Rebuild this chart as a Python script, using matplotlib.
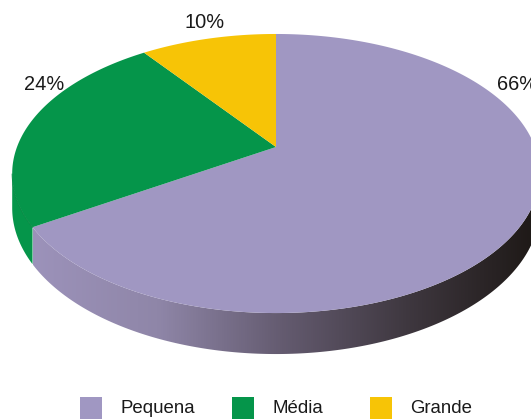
import numpy as np
import matplotlib
matplotlib.use("Agg")
import matplotlib.pyplot as plt
from matplotlib.colors import LinearSegmentedColormap
from matplotlib.patches import Polygon, Rectangle

categories = ["Pequena", "Média", "Grande"]
shares = [66, 24, 10]
colors = ["#A097C2", "#05954A", "#F7C406"]

plt.rcParams["font.family"] = ["Liberation Sans", "DejaVu Sans"]

W, H = 531, 419
fig = plt.figure(figsize=(W / 100, H / 100), dpi=100)
ax = fig.add_axes([0, 0, 1, 1])
ax.set_xlim(0, W)
ax.set_ylim(H, 0)
ax.axis("off")

# Perspective projection of the pie disc: angles run clockwise from 12 o'clock
CX, CY = 276.0, 147.0
AX_X, AX_Y, TILT = 259.0, 134.5, 0.19
THICKNESS = 33.2


def rim(theta, lower=False):
    w = 1 + TILT * np.cos(theta)
    drop = THICKNESS / w if lower else 0.0
    return np.column_stack((CX + AX_X * np.sin(theta) / w,
                            CY - AX_Y * np.cos(theta) / w + drop))


edges = np.cumsum([0] + shares) / sum(shares) * 2 * np.pi

# Side wall of the large slice, shaded from left to right
wall_cmap = LinearSegmentedColormap.from_list(
    "wall", ["#9C92BA", "#8F86A8", "#645B70", "#3F3840", "#1F1A18"])
arc = np.linspace(edges[1], np.pi / 2 - 0.1, 300)
wall = Polygon(np.vstack((rim(arc), rim(arc[::-1], lower=True))), closed=True,
               facecolor="none", edgecolor="none")
ax.add_patch(wall)
shade = ax.imshow(np.linspace(0, 1, 512)[None, :], cmap=wall_cmap,
                  extent=(33, 531, 400, 150), aspect="auto", zorder=1)
shade.set_clip_path(wall)
ax.set_xlim(0, W)
ax.set_ylim(H, 0)

# Side wall of the medium slice, visible only at the far left
green_arc = np.linspace(edges[1], edges[1] + 0.37, 80)
ax.add_patch(Polygon(np.vstack((rim(green_arc), rim(green_arc[::-1], lower=True))),
                     closed=True, facecolor=colors[1], edgecolor="none", zorder=1))
ax.plot(*rim(green_arc).T, color="#0A8542", lw=0.7, zorder=1.5)

# Top faces of the slices
for start, end, color in zip(edges[:-1], edges[1:], colors):
    theta = np.linspace(start, end, 200)
    outline = np.vstack(([[CX, CY]], rim(theta)))
    ax.add_patch(Polygon(outline, closed=True, facecolor=color,
                         edgecolor="none", zorder=2))

# Percentage labels
label_xy = [(517, 84), (44, 84), (205, 22)]
for value, (x, y) in zip(shares, label_xy):
    ax.text(x, y, f"{value}%", fontsize=14.4, color="#1a1a1a",
            ha="center", va="center", zorder=3)

# Legend row
swatch_x = [80, 232, 370]
text_x = [120, 272, 410]
for name, color, sx, tx in zip(categories, colors, swatch_x, text_x):
    ax.add_patch(Rectangle((sx, 397), 22, 22, facecolor=color, edgecolor="none"))
    ax.text(tx, 408, name, fontsize=13.4, color="#1a1a1a", ha="left", va="center")

fig.savefig("out.png", dpi=100)
